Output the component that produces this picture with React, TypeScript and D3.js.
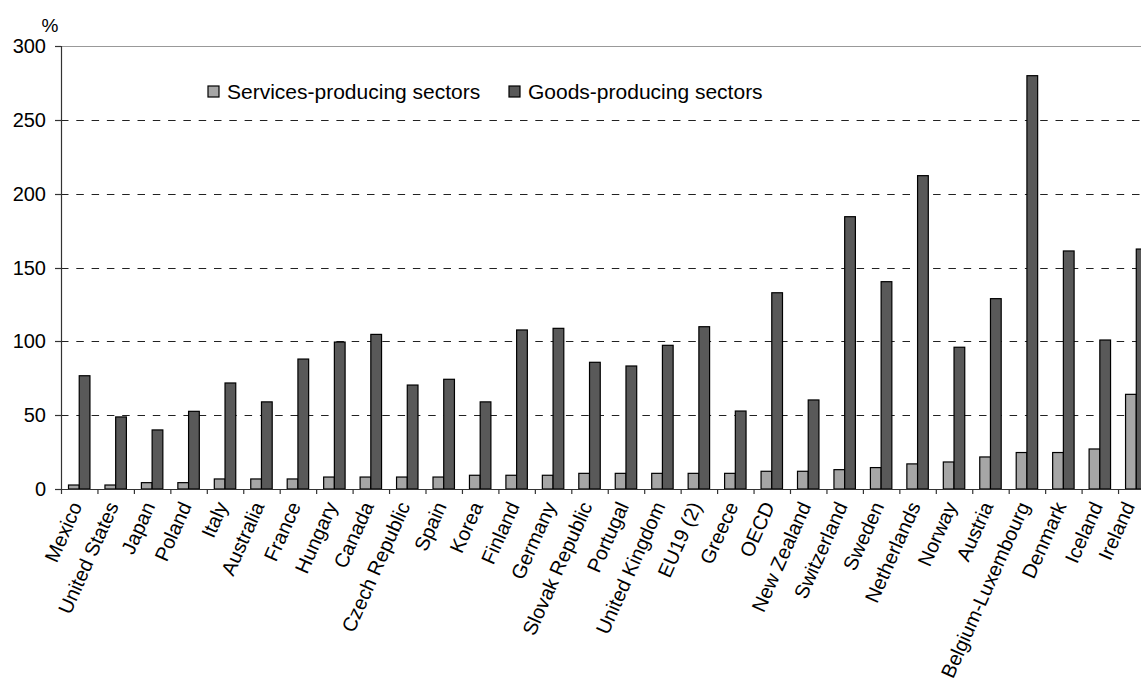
import React from "react";
import * as d3 from "d3";

const categories = [
  "Mexico", "United States", "Japan", "Poland", "Italy", "Australia", "France",
  "Hungary", "Canada", "Czech Republic", "Spain", "Korea", "Finland", "Germany",
  "Slovak Republic", "Portugal", "United Kingdom", "EU19 (2)", "Greece", "OECD",
  "New Zealand", "Switzerland", "Sweden", "Netherlands", "Norway", "Austria",
  "Belgium-Luxembourg", "Denmark", "Iceland", "Ireland",
];

const services = [
  2.7, 2.7, 4.3, 4.3, 6.8, 6.8, 6.8, 8.1, 8.1, 8.1, 8.1, 9.3, 9.3, 9.3,
  10.6, 10.6, 10.6, 10.6, 10.6, 12, 12, 13.1, 14.5, 17, 18.3, 21.7,
  24.7, 24.7, 27.1, 64.1,
];

const goods = [
  76.7, 48.8, 40, 52.6, 71.8, 59, 88, 99.5, 104.7, 70.4, 74.3, 59, 107.7, 108.8,
  85.8, 83.3, 97.3, 109.9, 52.8, 132.9, 60.3, 184.4, 140.4, 212.2, 96, 128.9,
  279.9, 161.2, 100.9, 162.5,
];

const seriesNames = ["Services-producing sectors", "Goods-producing sectors"];
const seriesColors = ["#a6a6a6", "#595959"];
const yTicks = [0, 50, 100, 150, 200, 250, 300];

const W = 1141;
const H = 687;
const left = 61;
const step = 36.45;
const top = 46;
const bottom = 489;
const FONT = "'Liberation Sans', Arial, sans-serif";

export default function App() {
  const x = d3.scaleBand<string>().domain(categories).range([left, left + step * categories.length]).padding(0);
  const xs = d3.scaleBand<string>().domain(["s", "g"]).range([0, x.bandwidth()]).paddingInner(0).paddingOuter(0.7);
  const y = d3.scaleLinear().domain([0, 300]).range([bottom, top]);

  return (
    <svg width={W} height={H} style={{ position: "absolute", left: 0, top: 0, background: "#fff" }} fontFamily={FONT}>
      {/* gridlines */}
      {yTicks.filter((t) => t > 0 && t < 300).map((t) => (
        <line key={t} x1={left} x2={W} y1={Math.round(y(t)) + 0.5} y2={Math.round(y(t)) + 0.5}
          stroke="#222" strokeWidth={1} strokeDasharray="7.5,7.8" />
      ))}
      <line x1={left} x2={W} y1={Math.round(y(300)) + 0.5} y2={Math.round(y(300)) + 0.5} stroke="#999" strokeWidth={1.2} />

      {/* bars */}
      {categories.map((c, i) => (
        <g key={c}>
          <rect x={(x(c) as number) + (xs("s") as number)} y={y(services[i])} width={xs.bandwidth()}
            height={y(0) - y(services[i])} fill={seriesColors[0]} stroke="#000" strokeWidth={1.2} />
          <rect x={(x(c) as number) + (xs("g") as number)} y={y(goods[i])} width={xs.bandwidth()}
            height={y(0) - y(goods[i])} fill={seriesColors[1]} stroke="#000" strokeWidth={1.2} />
        </g>
      ))}

      {/* y axis */}
      <line x1={left + 0.5} x2={left + 0.5} y1={top} y2={bottom} stroke="#333" strokeWidth={1.2} />
      {yTicks.map((t) => (
        <g key={t}>
          <line x1={left - 6} x2={left} y1={Math.round(y(t)) + 0.5} y2={Math.round(y(t)) + 0.5} stroke="#333" strokeWidth={1.2} />
          <text x={46} y={y(t) + 7} textAnchor="end" fontSize={20} fill="#000">{t}</text>
        </g>
      ))}
      <text x={50} y={32} textAnchor="middle" fontSize={19} fill="#000">%</text>

      {/* x axis */}
      <line x1={left} x2={W} y1={bottom + 0.5} y2={bottom + 0.5} stroke="#333" strokeWidth={1.2} />
      {categories.map((c) => (
        <line key={c} x1={(x(c) as number) + 0.5} x2={(x(c) as number) + 0.5} y1={bottom} y2={bottom + 5} stroke="#333" strokeWidth={1.2} />
      ))}
      {categories.map((c) => {
        const cx = Math.min((x(c) as number) + x.bandwidth() / 2 - 3, W - 12);
        const cy = bottom + 14;
        return (
          <text key={c} transform={`translate(${cx},${cy}) rotate(-66)`} textAnchor="end" dy="0.35em" fontSize={20} fill="#000">{c}</text>
        );
      })}

      {/* legend */}
      {seriesNames.map((n, i) => {
        const lx = i === 0 ? 208 : 509;
        return (
          <g key={n}>
            <rect x={lx} y={86} width={11} height={11} fill={seriesColors[i]} stroke="#000" strokeWidth={1.2} />
            <text x={lx + 19} y={99} fontSize={21} fill="#000">{n}</text>
          </g>
        );
      })}
    </svg>
  );
}
